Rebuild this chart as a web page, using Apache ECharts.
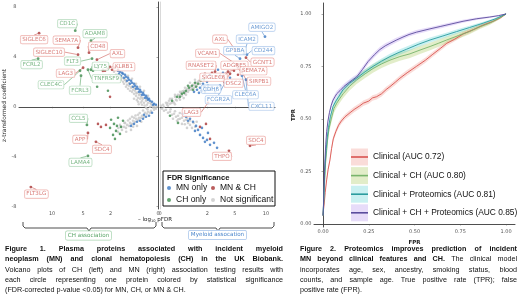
<!DOCTYPE html>
<html>
<head>
<meta charset="utf-8">
<script src="https://cdn.jsdelivr.net/npm/echarts@6/dist/echarts.min.js"></script>
<style>
html, body { margin: 0; padding: 0; background: #fff; }
#chart { width: 520px; height: 295px; }
</style>
</head>
<body>
<div id="chart"></div>
<script>
// volcano points: [-log10 pFDR, z-transformed coefficient]
const chNotSig = [[.001,0],[.008,-.08],[.014,.08],[.032,.08],[.044,.24],[.057,0],[.089,.32],[.108,.16],[.128,.48],[.175,.32],[.2,.64],[.228,.48],[.258,.8],[.289,.64],[.322,.96],[.356,.72],[.393,1.12],[.431,.88],[.471,1.29],[.513,1.04],[.557,1.37],[.602,1.2],[.65,1.53],[.699,1.29],[.749,1.69],[.802,1.45],[.856,1.77],[.912,1.61],[1.03,1.85],[1.09,2.01],[.97,2.17],[1.22,2.17],[1.155,2.33],[1.355,2.33],[.802,2.49],[.602,2.25],[.431,1.85],[.289,1.61],[.175,1.29],[.089,.88],[1.57,2.57],[1.725,2.81],[.128,-.08],[.228,.16],[.356,.4],[.513,.64],
  [.05,.3],[.12,.55],[.22,.7],[.3,1.0],[.42,1.1],[.5,1.5],[.62,1.6],[.75,1.9],[.9,2.0],[1.0,2.2],[1.3,2.5],[.16,.1],[.26,.35],[.4,.55],[.33,.2],
  [.004,-.16],[.014,-.24],[.022,-.08],[.044,-.32],[.057,-.48],[.089,-.4],[.108,-.56],[.15,-.48],[.175,-.8],[.228,-.72],[.258,-.88],[.322,-.88],[.356,-1.04],[.431,-.96],[.471,-1.2],[.557,-1.12],[.602,-1.37],[.699,-1.29],[.749,-1.53],[.856,-1.45],[.912,-1.69],[1.03,-1.61],[.513,-.88],[.356,-.64],[.699,-.96],[.97,-1.29],[1.155,-1.85],[1.287,-1.45],[1.426,-2.01],[.65,-1.85],[.393,-1.53],
  [.1,-.2],[.2,-.3],[.3,-.5],[.45,-.7],[.6,-.8],[.8,-1.1],[1.0,-1.3],[1.2,-1.6],[.55,-1.6],[.9,-2.0],[1.4,-1.7],[.25,-1.2]];
const chMnOnly = [[.004,.16],[.014,.24],[.032,.40],[.057,.48],[.072,.64],[.108,.72],[.128,.88],[.175,.96],[.2,1.12],[.258,1.2],[.289,1.37],[.356,1.45],[.393,1.61],[.471,1.69],[.513,1.85],[.602,1.93],[.65,2.09],[.749,2.17],[.802,2.33],[.912,2.41],[.97,2.57],[1.09,2.65],[1.155,2.73],[1.287,2.81],[1.426,2.89],[.022,.16],[.089,.56],[.15,.72],[.228,.96],[.322,1.2],[.431,1.45],[.557,1.61],[.699,1.85],[.856,2.09],[1.03,2.33],[1.22,2.49],[1.355,2.65],
  [.032,-.48],[.072,-.72],[.128,-.8],[.2,-.96],[.289,-1.12],[.393,-1.2],[.513,-1.37],[.175,-.64],[.65,-1.53]];
const chChOnly = [[1.09,-1.12],[1.22,-1.61],[1.426,-.88],[1.57,-1.93],[1.725,-1.37],[1.8,-2.25],[1.287,-2.17],[1.5,-1.53],[1.96,-1.04],[1.65,-2.57],[2.23,1.29],[3.3,1.61],[3.21,3.13],[3.76,2.89],[2.7,2.97],[2.05,-1.69]];
const chBoth = [[1.426,2.97],[1.65,3.13],[1.885,2.97],[2.23,3.05],[2.5,2.89],[2.05,3.21],[2.05,.8],[2.41,-1.45],[2.9,-1.61],[3.21,-1.37],[1.09,3.21]];

const mnNotSig = [[.001,.08],[.008,.16],[.014,0],[.032,.32],[.044,.16],[.072,.48],[.089,.24],[.128,.64],[.15,.4],[.2,.8],[.228,.56],[.289,.96],[.322,.72],[.393,1.12],[.431,.88],[.513,1.29],[.557,1.04],[.65,1.45],[.699,1.2],[.802,1.61],[.856,1.37],[.97,1.77],[1.03,1.53],[1.155,1.93],[1.22,1.69],[1.355,2.09],[1.426,1.85],[1.09,2.17],[.802,1.93],[.557,1.53],[.356,1.2],[.2,.96],[.089,.64],[1.57,2.25],[.057,.08],[.175,.32],[.356,.56],[.602,.96],
  [.05,.3],[.12,.3],[.25,.5],[.35,.95],[.45,1.25],[.6,1.2],[.75,1.35],[.9,1.5],[1.1,1.75],[1.3,2.0],[.2,.2],[.5,.7],
  [.004,-.16],[.014,-.32],[.032,-.24],[.057,-.48],[.089,-.4],[.128,-.64],[.175,-.56],[.228,-.8],[.289,-.72],[.356,-.96],[.431,-.88],[.513,-1.12],[.602,-1.04],[.699,-1.29],[.802,-1.45],[.258,-1.12],[.431,-1.37],[.15,-.96],[.912,-1.69],[.65,-1.69],
  [.1,-.2],[.2,-.35],[.35,-.5],[.5,-.7],[.65,-.9],[.8,-1.1],[1.0,-1.3],[.3,-1.0],[.55,-1.4],[1.1,-1.6],[1.2,-1.2]];
const mnMnOnly = [[1.22,1.37],[1.426,1.53],[1.57,1.29],[1.725,1.61],[1.885,1.45],[2.05,1.69],[2.23,1.37],[2.41,1.61],[2.7,1.2],[1.8,1.2],[1.355,1.12],[2.9,1.53],[1.65,1.85],[1.03,1.2],[1.97,2.0],[2.23,2.57],[3.0,2.97],[4.37,2.33],[3.54,2.73],
  [.471,-.56],[.602,-.8],[.802,-.96],[.97,-1.2],[1.155,-1.53],[1.287,-1.85],[1.426,-2.25],[1.65,-2.49],[1.8,-2.81],[1.97,-2.65],[2.23,-3.05],[2.6,-2.89],[2.9,-3.29],[1.09,-1.93],[1.57,-1.69],[2.05,-2.09],[.699,-1.12]];
const mnChOnly = [[.128,.48],[.258,.8],[.431,1.04],[.602,1.29],[.749,1.53],[.912,1.69],[1.09,1.93],[1.287,1.85],[1.5,2.09],[.356,.8],[.97,1.37],[.699,1.69],[1.725,2.17],[.513,1.12],[1.155,1.61],[.089,-.72],[.289,-1.29]];
const mnBoth = [[1.8,2.65],[2.41,2.73],[3.21,2.41],[3.88,2.65],[4.88,2.89],[5.42,2.57],[1.885,-1.37],[2.23,-2.57],[1.426,-1.61]];

// labelled proteins
const chLabelNames = ['CD1C','SIGLEC6','SEMA7A','ADAM8','CD48','SIGLEC10','AXL','FLT3','FCRL2','LY75','KLRB1','LAG3','TNFRSF9','CLEC4C','FCRL3','CCL5','APP','SDC4','LAMA4','FLT3LG'];
const chLabelGroup = ['CH only','MN & CH','MN & CH','CH only','MN & CH','MN & CH','MN & CH','CH only','CH only','CH only','MN & CH','MN & CH','CH only','CH only','CH only','CH only','MN & CH','MN & CH','CH only','MN & CH'];
const chLabelLogP = [6.1,12.6,5.7,4.0,4.24,5.7,3.32,3.88,12.8,4.0,2.7,5.0,4.37,5.42,5.28,4.5,4.37,3.43,4.37,14.4];
const chLabelCoef = [6.1,5.9,4.74,5.3,4.34,4.18,3.78,3.86,3.86,2.97,2.89,3.13,2.97,2.89,2.49,-1.45,-2.09,-2.81,-3.94,-6.43];

const mnLabelNames = ['AMIGO2','AXL','ICAM2','GP1BA','CD244','VCAM1','GCNT1','RNASET2','ADGRE5','SEMA7A','SIGLEC6','DSC2','SIRPB1','CDH6','CLEC6A','FCGR2A','CXCL11','LAG3','SDC4','THPO'];
const mnLabelGroup = ['MN only','MN & CH','MN only','MN only','MN only','MN & CH','MN & CH','MN & CH','MN & CH','MN & CH','MN & CH','MN & CH','MN & CH','MN only','MN only','MN only','MN only','MN & CH','MN & CH','MN & CH'];
const mnLabelLogP = [9.82,5.01,6.29,5.7,6.74,5.28,6.59,2.7,4.12,5.42,4.37,3.54,5.99,3.21,5.99,3.76,6.59,2.05,7.22,4.24];
const mnLabelCoef = [5.62,4.58,4.26,3.86,4.18,3.37,3.94,2.81,2.81,3.13,2.65,2.41,2.81,1.69,2.49,1.93,2.17,0.32,-3.13,-3.53];

const pfdrTicks = [0, 2, 5, 10];
const coefTicks = [-8, -4, 0, 4, 8];
const rateTicks = [0, 0.25, 0.5, 0.75, 1];

// ROC curves: [FPR, TPR, half band width]
const rocClinical = [[0,.04,.005],[.003,.07,.006],[.007,.1,.008],[.012,.15,.01],[.02,.21,.012],[.028,.26,.013],[.038,.305,.013],[.047,.36,.013],[.056,.405,.013],[.07,.44,.013],[.085,.47,.013],[.1,.49,.013],[.12,.51,.013],[.148,.53,.013],[.17,.545,.013],[.2,.562,.013],[.22,.575,.013],[.25,.585,.013],[.27,.6,.013],[.293,.606,.013],[.32,.62,.013],[.345,.64,.013],[.366,.654,.013],[.395,.675,.013],[.42,.694,.013],[.46,.72,.013],[.51,.75,.013],[.56,.78,.012],[.6,.808,.012],[.64,.835,.011],[.676,.86,.011],[.72,.88,.01],[.766,.905,.01],[.82,.925,.009],[.875,.947,.008],[.93,.965,.006],[.97,.982,.005],[1,1,.003]];
const rocCH = [[0,.04,.005],[.003,.09,.008],[.006,.15,.01],[.01,.22,.013],[.014,.29,.015],[.02,.35,.017],[.025,.4,.018],[.032,.45,.019],[.045,.5,.02],[.06,.55,.02],[.075,.575,.02],[.09,.595,.02],[.11,.62,.02],[.145,.655,.02],[.184,.686,.02],[.23,.715,.02],[.273,.74,.02],[.32,.762,.02],[.366,.78,.02],[.42,.797,.02],[.475,.81,.02],[.53,.828,.019],[.585,.845,.018],[.63,.86,.017],[.676,.876,.016],[.74,.897,.015],[.8,.916,.013],[.86,.94,.011],[.91,.956,.009],[.96,.978,.006],[1,1,.003]];
const rocProt = [[0,.04,.005],[.003,.09,.007],[.006,.16,.009],[.009,.23,.011],[.013,.3,.012],[.018,.36,.013],[.023,.41,.013],[.03,.46,.013],[.04,.51,.013],[.055,.56,.013],[.07,.585,.013],[.085,.605,.013],[.11,.64,.013],[.145,.67,.013],[.184,.694,.013],[.23,.725,.013],[.273,.75,.013],[.32,.775,.013],[.366,.797,.013],[.41,.815,.013],[.457,.832,.013],[.52,.855,.012],[.585,.876,.012],[.655,.895,.011],[.73,.916,.01],[.8,.935,.009],[.875,.956,.007],[.94,.976,.005],[1,1,.003]];
const rocAll = [[0,.04,.005],[.003,.1,.007],[.005,.17,.009],[.008,.25,.011],[.011,.31,.012],[.015,.38,.013],[.02,.44,.013],[.027,.49,.013],[.035,.53,.013],[.045,.565,.013],[.055,.59,.013],[.065,.605,.013],[.075,.62,.013],[.093,.635,.013],[.115,.655,.013],[.137,.67,.013],[.16,.685,.013],[.184,.7,.013],[.215,.735,.013],[.246,.773,.013],[.28,.805,.012],[.31,.83,.012],[.34,.848,.012],[.366,.86,.011],[.4,.875,.011],[.437,.89,.01],[.47,.902,.01],[.51,.913,.01],[.58,.928,.009],[.64,.94,.009],[.7,.952,.008],[.765,.965,.007],[.84,.977,.006],[.91,.985,.004],[.96,.992,.003],[1,1,.002]];
const rocNames = ['Clinical (AUC 0.72)', 'Clinical + CH (AUC 0.80)', 'Clinical + Proteomics (AUC 0.81)', 'Clinical + CH + Proteomics (AUC 0.85)'];

// ---- styles ----
const groupStyle = {
  'MN only': { dot: '#3a77c2', text: '#4b86cb', border: '#a3c2ea' },
  'MN & CH': { dot: '#a93535', text: '#cf5d58', border: '#eba39e' },
  'CH only': { dot: '#3c8a4b', text: '#57a465', border: '#a9d5b1' },
  'Not significant': { dot: '#c8c8c8' }
};
const rocLine = ['#d9534f', '#78b46c', '#2a9c9e', '#5b4d9d'];
const rocBand = ['rgba(240,140,130,0.3)', 'rgba(150,190,60,0.28)', 'rgba(60,200,205,0.28)', 'rgba(170,130,235,0.28)'];

// label nudges in pixels (label centre minus point)
const labelNudge = {
  ch: { CD1C: [-8, -7], SIGLEC6: [-5, 6.5], SEMA7A: [-11.5, -7.5], ADAM8: [4, -7], CD48: [9, -6.5], SIGLEC10: [-29, -2.5],
        AXL: [20.5, -6], FLT3: [-19.5, 2.5], FCRL2: [-6.5, 6], LY75: [9.5, -3.5], KLRB1: [21, -4], LAG3: [-17.5, 5.5],
        TNFRSF9: [18.5, 9], CLEC4C: [-29, 14], FCRL3: [-1, 14.5], CCL5: [-8.5, -6.5], APP: [-8, 6.5], SDC4: [6, 7.5],
        LAMA4: [-7.5, 6.5], FLT3LG: [5.5, 7] },
  mn: { AMIGO2: [-3, -9.5], AXL: [-15, -10.5], ICAM2: [3, -14.5], GP1BA: [-5, -8], CD244: [16.5, -4], VCAM1: [-29.5, -11.5],
        GCNT1: [16.5, 4.5], RNASET2: [-14, -6.5], ADGRE5: [6.5, -6.5], SEMA7A: [15.5, 3], SIGLEC6: [-16.5, 3.5], DSC2: [10.5, 6.5],
        SIRPB1: [17, 9.5], CDH6: [-9, 3.5], CLEC6A: [3.5, 19], FCGR2A: [-6.5, 17], CXCL11: [15.5, 26.5], LAG3: [-16.5, 9.5],
        SDC4: [6, -5.5], THPO: [-7, 5.5] }
};

const toSqrt = pts => pts.map(p => [Math.sqrt(p[0]), p[1]]);

function dots(name, axis, pts, z) {
  return {
    type: 'scatter', name, xAxisIndex: axis, yAxisIndex: axis,
    symbolSize: 2.6, itemStyle: { color: groupStyle[name].dot },
    data: toSqrt(pts), z, silent: true
  };
}

function labelled(panel, axis, names, groups, logp, coef, group) {
  const idx = names.map((n, i) => i).filter(i => groups[i] === group);
  const nm = idx.map(i => names[i]);
  const st = groupStyle[group];
  return {
    type: 'scatter', name: group, xAxisIndex: axis, yAxisIndex: axis,
    symbolSize: 2.8, itemStyle: { color: st.dot }, z: 6, silent: true,
    data: idx.map(i => ({ name: names[i], value: [Math.sqrt(logp[i]), coef[i]] })),
    label: {
      show: true, position: 'inside', formatter: '{b}',
      fontFamily: 'DejaVu Sans', fontSize: 5.6, color: st.text,
      backgroundColor: '#fff', borderColor: st.border, borderWidth: 0.7, borderRadius: 1.5,
      padding: [1.2, 1.6, 0.6, 1.6]
    },
    labelLine: { show: true, lineStyle: { color: st.text, width: 0.6 } },
    labelLayout: p => {
      const s = labelNudge[panel][nm[p.dataIndex]];
      return { dx: s[0], dy: s[1] };
    }
  };
}

// confidence ribbon drawn as one polygon through the axis scales
function rocBandSeries(pts, i) {
  return {
    type: 'custom', name: 'band' + i, xAxisIndex: 2, yAxisIndex: 2, silent: true, clip: true, z: 1,
    data: pts.map(p => [p[0], p[1]]),
    renderItem: (params, api) => {
      if (params.dataIndex !== 0) return null;
      const upper = pts.map(p => api.coord([p[0], p[1] + p[2]]));
      const lower = pts.slice().reverse().map(p => api.coord([p[0], p[1] - p[2]]));
      return { type: 'polygon', shape: { points: upper.concat(lower) }, style: { fill: rocBand[i] } };
    }
  };
}

// caption text, justified word by word
const CAP_FONT = 'Liberation Sans';
function caption(lines, left, width, top, lineH, size, sx0) {
  const ctx = document.createElement('canvas').getContext('2d');
  const out = [];
  lines.forEach((line, li) => {
    const words = [];
    line.parts.forEach(([txt, bold]) => txt.split(' ').forEach(w => { if (w) words.push({ w, bold }); }));
    words.forEach(o => {
      ctx.font = (o.bold ? 'bold ' : '') + size + 'px "' + CAP_FONT + '"';
      o.raw = ctx.measureText(o.w).width;
    });
    ctx.font = size + 'px "' + CAP_FONT + '"';
    const spaceRaw = ctx.measureText(' ').width;
    const rawAll = words.reduce((s, o) => s + o.raw, 0) + spaceRaw * (words.length - 1);
    const sx = Math.min(sx0, width / rawAll);
    const used = words.reduce((s, o) => s + o.raw * sx, 0);
    const gap = line.justify && words.length > 1 ? (width - used) / (words.length - 1) : spaceRaw * sx;
    let x = left;
    words.forEach(o => {
      out.push({ type: 'text', x, y: top + li * lineH, scaleX: sx, silent: true,
        style: { text: o.w, fontFamily: CAP_FONT, fontSize: size, fontWeight: o.bold ? 'bold' : 'normal',
                 fill: '#111', verticalAlign: 'middle' } });
      x += o.raw * sx + gap;
    });
  });
  return out;
}

const cap1 = [
  { parts: [['Figure 1. Plasma proteins associated with incident myeloid', true]], justify: true },
  { parts: [['neoplasm (MN) and clonal hematopoiesis (CH) in the UK Biobank.', true]], justify: true },
  { parts: [['Volcano plots of CH (left) and MN (right) association testing results with', false]], justify: true },
  { parts: [['each circle representing one protein colored by statistical significance', false]], justify: true },
  { parts: [['(FDR-corrected p-value <0.05) for MN, CH, or MN & CH.', false]], justify: false }
];
const cap2 = [
  { parts: [['Figure 2. Proteomics improves prediction of incident', true]], justify: true },
  { parts: [['MN beyond clinical features and CH.', true], ['The clinical model', false]], justify: true },
  { parts: [['incorporates age, sex, ancestry, smoking status, blood', false]], justify: true },
  { parts: [['counts, and sample age. True positive rate (TPR); false', false]], justify: true },
  { parts: [['positive rate (FPR).', false]], justify: false }
];

const axisFont = { fontFamily: 'DejaVu Sans', fontSize: 5, color: '#555' };
const blackLine = { show: true, lineStyle: { color: '#222', width: 0.8 } };

function pfdrAxis(grid, max, inverse) {
  const vals = pfdrTicks.map(Math.sqrt);
  return {
    type: 'value', gridIndex: grid, min: 0, max, inverse,
    axisLine: blackLine,
    axisTick: { show: true, length: 1.5, customValues: vals, lineStyle: { color: '#555', width: 0.5 } },
    axisLabel: { ...axisFont, margin: 2.5, customValues: vals, formatter: v => String(Math.round(v * v)) },
    splitLine: { show: false }
  };
}

const series = [
  dots('Not significant', 0, chNotSig, 2), dots('MN only', 0, chMnOnly, 3), dots('CH only', 0, chChOnly, 4), dots('MN & CH', 0, chBoth, 5),
  dots('Not significant', 1, mnNotSig, 2), dots('MN only', 1, mnMnOnly, 3), dots('CH only', 1, mnChOnly, 4), dots('MN & CH', 1, mnBoth, 5),
  labelled('ch', 0, chLabelNames, chLabelGroup, chLabelLogP, chLabelCoef, 'CH only'),
  labelled('ch', 0, chLabelNames, chLabelGroup, chLabelLogP, chLabelCoef, 'MN & CH'),
  labelled('mn', 1, mnLabelNames, mnLabelGroup, mnLabelLogP, mnLabelCoef, 'MN only'),
  labelled('mn', 1, mnLabelNames, mnLabelGroup, mnLabelLogP, mnLabelCoef, 'MN & CH')
];
const rocAllCurves = [rocClinical, rocCH, rocProt, rocAll];
rocAllCurves.forEach((pts, i) => series.push(rocBandSeries(pts, i)));
rocAllCurves.forEach((pts, i) => series.push({
  type: 'line', name: rocNames[i], xAxisIndex: 2, yAxisIndex: 2, symbol: 'none', showSymbol: false, silent: true, z: 3,
  lineStyle: { color: rocLine[i], width: 0.9 }, itemStyle: { color: rocLine[i] },
  data: pts.map(p => [p[0], p[1]])
}));

const bracket = (x0, x1, xm) => ({
  type: 'polyline', silent: true,
  shape: { points: [[x0, 222], [x0, 226], [x0 + 2, 228], [xm - 2, 228], [xm, 231], [xm + 2, 228], [x1 - 2, 228], [x1, 226], [x1, 222]] },
  style: { stroke: '#222', lineWidth: 0.8, fill: null }
});
const tag = (x, y, text, st) => ({
  type: 'text', x, y, silent: true,
  style: { text, fontFamily: 'DejaVu Sans', fontSize: 5.6, fill: st.text, align: 'center', verticalAlign: 'middle',
           backgroundColor: '#fff', borderColor: st.border, borderWidth: 0.7, borderRadius: 1.5, padding: [1.5, 2, 1, 2] }
});

const option = {
  animation: false,
  backgroundColor: '#fff',
  grid: [
    { left: 19, top: 2, width: 139, height: 207, outerBoundsMode: 'none' },
    { left: 160, top: 2, width: 115, height: 207, outerBoundsMode: 'none' },
    { left: 314, top: 3, width: 201, height: 224, outerBoundsMode: 'none' }
  ],
  xAxis: [
    pfdrAxis(0, 4.149, true),
    pfdrAxis(1, 3.433, false),
    {
      type: 'value', gridIndex: 2, min: -0.0492, max: 1.049,
      name: 'FPR', nameLocation: 'middle', nameGap: 12,
      nameTextStyle: { fontFamily: 'DejaVu Sans', fontSize: 5.5, fontWeight: 'bold', color: '#222' },
      axisLine: blackLine,
      axisTick: { show: true, length: 1.5, customValues: rateTicks, lineStyle: { color: '#555', width: 0.5 } },
      axisLabel: { ...axisFont, margin: 2.5, customValues: rateTicks, formatter: v => v.toFixed(2) },
      splitLine: { show: false }
    }
  ],
  yAxis: [
    {
      type: 'value', gridIndex: 0, min: -8.19, max: 8.4,
      name: 'z-transformed coefficient', nameLocation: 'middle', nameGap: 11,
      nameTextStyle: { fontFamily: 'DejaVu Sans', fontSize: 5.8, color: '#222' },
      axisLine: blackLine,
      axisTick: { show: true, length: 1.5, customValues: coefTicks, lineStyle: { color: '#555', width: 0.5 } },
      axisLabel: { ...axisFont, margin: 2.5, customValues: coefTicks },
      splitLine: { show: false }
    },
    {
      type: 'value', gridIndex: 1, min: -8.19, max: 8.4,
      axisLine: { show: true, lineStyle: { color: '#cfcfcf', width: 0.8 } },
      axisTick: { show: false }, axisLabel: { show: false }, splitLine: { show: false }
    },
    {
      type: 'value', gridIndex: 2, min: -0.0143, max: 1.052,
      name: 'TPR', nameLocation: 'middle', nameGap: 16,
      nameTextStyle: { fontFamily: 'DejaVu Sans', fontSize: 5.5, fontWeight: 'bold', color: '#222' },
      axisLine: blackLine,
      axisTick: { show: true, length: 1.5, customValues: rateTicks, lineStyle: { color: '#555', width: 0.5 } },
      axisLabel: { ...axisFont, margin: 2.5, customValues: rateTicks, formatter: v => v.toFixed(2) },
      splitLine: { show: false }
    }
  ],
  legend: [
    {
      data: ['MN only', 'MN & CH', 'CH only', 'Not significant'],
      left: 167, top: 183, width: 120, padding: 0, itemGap: 2,
      icon: 'circle', itemWidth: 4, itemHeight: 4, selectedMode: false, z: 20,
      textStyle: { fontFamily: 'Liberation Sans', fontSize: 8.5, lineHeight: 10, width: 33, color: '#111' }
    },
    {
      data: rocNames.map((n, i) => ({ name: n, icon: 'rect', itemStyle: { color: rocBand[i], borderWidth: 0 } })),
      orient: 'vertical', left: 351, top: 148.5, padding: 0, itemGap: 1.6,
      itemWidth: 17, itemHeight: 17, formatter: () => '', selectedMode: false, z: 10
    },
    {
      data: rocNames, icon: 'rect',
      orient: 'vertical', left: 351, top: 148.5, padding: 0, itemGap: 1.6,
      itemWidth: 17, itemHeight: 1.6, selectedMode: false, z: 11,
      textStyle: { fontFamily: 'Liberation Sans', fontSize: 8.4, lineHeight: 17, color: '#111' }
    }
  ],
  graphic: [
    { type: 'rect', z: 15, silent: true, shape: { x: 163, y: 171, width: 112, height: 35 },
      style: { fill: '#fff', stroke: '#111', lineWidth: 1 } },
    { type: 'text', z: 21, x: 167, y: 177.5, silent: true,
      style: { text: 'FDR Significance', fontFamily: 'Liberation Sans', fontSize: 7.6, fontWeight: 'bold', fill: '#111', verticalAlign: 'middle' } },
    { type: 'text', x: 155, y: 220, silent: true,
      style: { text: '{a|– log}{s|10}{a| pFDR}', align: 'center', verticalAlign: 'middle',
               rich: { a: { fontFamily: 'DejaVu Sans', fontSize: 5.5, fill: '#222' },
                       s: { fontFamily: 'DejaVu Sans', fontSize: 3.6, fill: '#222', verticalAlign: 'bottom' } } } },
    bracket(23, 156, 89),
    bracket(162, 274, 218),
    tag(88.5, 235.5, 'CH association', groupStyle['CH only']),
    tag(217.5, 235, 'Myeloid assocation', groupStyle['MN only']),
    ...caption(cap1, 5, 278, 249, 10.2, 8, 0.9),
    ...caption(cap2, 300, 217, 249, 10.2, 8, 0.9)
  ],
  series
};

const chart = echarts.init(document.getElementById('chart'), null, { renderer: 'canvas' });
chart.setOption(option);
</script>
</body>
</html>
